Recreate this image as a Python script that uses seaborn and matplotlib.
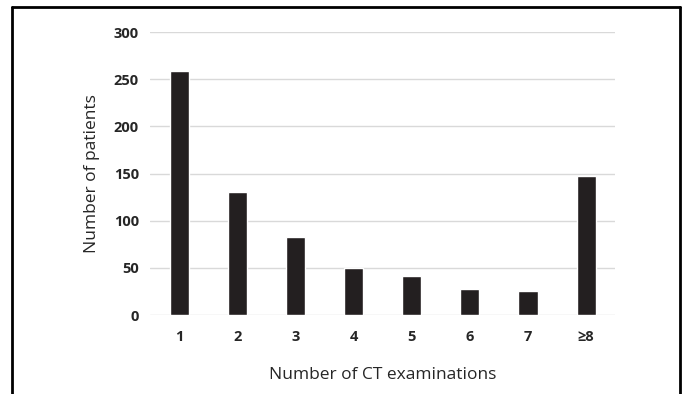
import matplotlib
matplotlib.use('Agg')
import matplotlib.pyplot as plt
import pandas as pd
import seaborn as sns
from matplotlib.lines import Line2D

# Chart data
exams = ['1', '2', '3', '4', '5', '6', '7', '≥8']
patients = [259, 130, 83, 50, 41, 28, 25, 147]
yticks = [0, 50, 100, 150, 200, 250, 300]

df = pd.DataFrame({'exams': exams, 'patients': patients})

sns.set_theme(style='white')
plt.rcParams['font.family'] = ['Open Sans', 'DejaVu Sans']

fig = plt.figure(figsize=(6.82, 3.94), dpi=100)
ax = fig.add_axes([0.22, 0.2005, 0.682, 0.718])

sns.barplot(data=df, x='exams', y='patients', color='#231f20', width=0.33,
            saturation=1, ax=ax, zorder=3)

ax.set_ylim(0, 300)
ax.set_yticks(yticks)
ax.yaxis.grid(True, color='#d9d9d9', linewidth=1.0, zorder=0)
ax.set_axisbelow(True)
for s in ax.spines.values():
    s.set_visible(False)

ax.tick_params(axis='both', length=0, labelsize=10.5, colors='#262626')
ax.tick_params(axis='x', pad=11)
ax.tick_params(axis='y', pad=8)
for lab in ax.get_xticklabels() + ax.get_yticklabels():
    lab.set_fontweight('bold')

ax.set_xlabel('Number of CT examinations', fontsize=12.5, color='#262626', labelpad=16)
ax.set_ylabel('Number of patients', fontsize=12.5, color='#262626', labelpad=10)

# outer frame (left, top, right)
fc = '#000000'
fig.add_artist(Line2D([0.018, 0.018], [0, 0.983], transform=fig.transFigure, color=fc, lw=2))
fig.add_artist(Line2D([0.018, 0.997], [0.983, 0.983], transform=fig.transFigure, color=fc, lw=2))
fig.add_artist(Line2D([0.997, 0.997], [0, 0.983], transform=fig.transFigure, color=fc, lw=2))

fig.savefig('out.png', dpi=100)
